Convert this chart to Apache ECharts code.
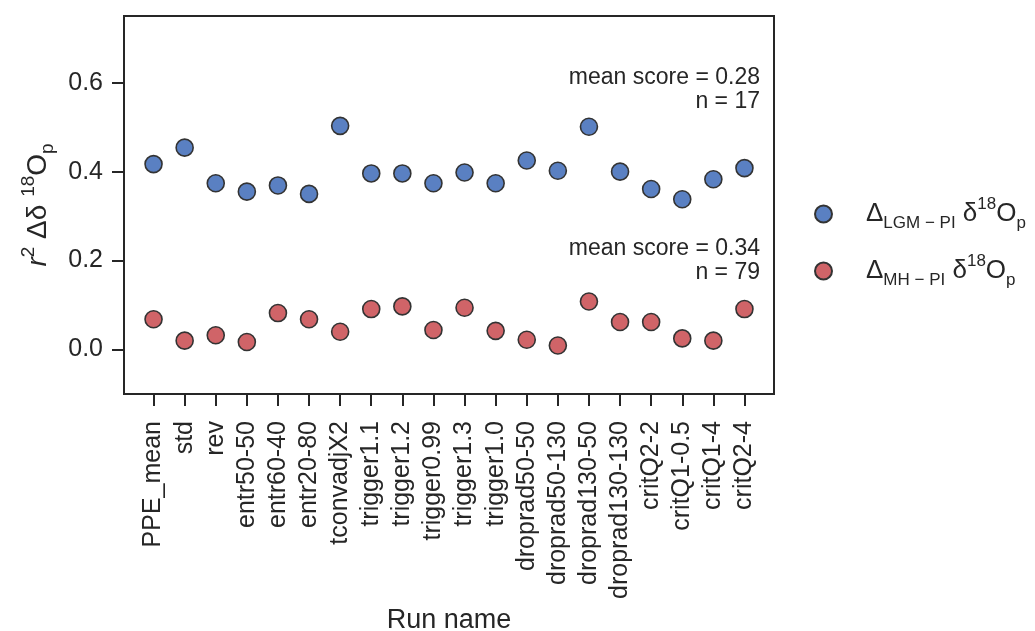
<!DOCTYPE html>
<html>
<head>
<meta charset="utf-8">
<script src="https://cdn.jsdelivr.net/npm/echarts@6/dist/echarts.min.js"></script>
<style>
html,body{margin:0;padding:0;background:#fff;}
#chart{width:1035px;height:631px;}
</style>
</head>
<body>
<div id="chart"></div>
<script>
var categories = ['PPE_mean','std','rev','entr50-50','entr60-40','entr20-80','tconvadjX2','trigger1.1','trigger1.2','trigger0.99','trigger1.3','trigger1.0','droprad50-50','droprad50-130','droprad130-50','droprad130-130','critQ2-2','critQ1-0.5','critQ1-4','critQ2-4'];
var lgmValues = [0.417,0.454,0.374,0.355,0.369,0.350,0.503,0.396,0.396,0.374,0.398,0.374,0.425,0.402,0.501,0.400,0.361,0.338,0.383,0.408];
var mhValues = [0.068,0.020,0.032,0.017,0.082,0.068,0.040,0.091,0.097,0.044,0.094,0.042,0.022,0.009,0.108,0.062,0.062,0.025,0.020,0.091];
var yTicks = [0.0, 0.2, 0.4, 0.6];
var annotationLines = [['mean score = 0.28', 'n = 17'], ['mean score = 0.34', 'n = 79']];

var FONT = '"Liberation Sans", Arial, Helvetica, sans-serif';
var TXT = '#262626';
var xIdx = categories.map(function(c, i){ return i; });

var chart = echarts.init(document.getElementById('chart'), null, {renderer: 'canvas'});

function richSet(main, small){
  return {
    n: {fontFamily: FONT, fontSize: main, color: TXT, lineHeight: main + 10},
    i: {fontFamily: FONT, fontSize: main, color: TXT, lineHeight: main + 10, fontStyle: 'italic'},
    sup: {fontFamily: FONT, fontSize: small, color: TXT, lineHeight: small, verticalAlign: 'top'},
    sub: {fontFamily: FONT, fontSize: small, color: TXT, lineHeight: small, verticalAlign: 'bottom'},
    gap: {width: 29, fontSize: main, lineHeight: main + 10}
  };
}

var annotGraphics = [];
var annotTops = [[66, 90], [237, 261]];
annotationLines.forEach(function(lines, k){
  lines.forEach(function(t, j){
    annotGraphics.push({type: 'text', right: 275, top: annotTops[k][j],
      style: {text: t, fontFamily: FONT, fontSize: 23, fill: TXT}});
  });
});

var option = {
  animation: false,
  backgroundColor: '#ffffff',
  grid: {left: 124, right: 261, top: 16, bottom: 237, outerBoundsMode: 'none', containLabel: false,
    show: true, borderColor: '#262626', borderWidth: 2, backgroundColor: 'transparent'},
  xAxis: {
    type: 'value', min: -0.95, max: 19.95,
    name: 'Run name', nameLocation: 'middle', nameGap: 212,
    nameTextStyle: {fontFamily: FONT, fontSize: 27, color: TXT},
    axisLine: {show: true, onZero: false, lineStyle: {color: '#262626', width: 2}},
    axisTick: {show: true, length: 12, lineStyle: {color: '#262626', width: 2}, customValues: xIdx},
    axisLabel: {show: true, rotate: 90, margin: 27, fontFamily: FONT, fontSize: 25, color: TXT,
      customValues: xIdx,
      formatter: function(v){ return categories[Math.round(v)]; }},
    splitLine: {show: false}
  },
  yAxis: {
    type: 'value', min: -0.1, max: 0.75,
    name: '{i|r}{sup|2}{n| Δδ }{sup|18}{n|O}{sub|p}', nameLocation: 'middle', nameGap: 58,
    nameTextStyle: {rich: richSet(28, 19)},
    axisLine: {show: true, onZero: false, lineStyle: {color: '#262626', width: 2}},
    axisTick: {show: true, length: 12, lineStyle: {color: '#262626', width: 2}, customValues: yTicks},
    axisLabel: {show: true, margin: 21, fontFamily: FONT, fontSize: 25, color: TXT,
      customValues: yTicks,
      formatter: function(v){ return v.toFixed(1); }},
    splitLine: {show: false}
  },
  legend: {
    orient: 'vertical', left: 814, top: 196, itemGap: 21, itemWidth: 17, itemHeight: 17, padding: 0,
    icon: 'circle',
    data: ['LGM', 'MH'],
    formatter: function(name){
      if (name === 'LGM') return '{gap| }{n|Δ}{sub|LGM − PI}{n| δ}{sup|18}{n|O}{sub|p}';
      return '{gap| }{n|Δ}{sub|MH − PI}{n| δ}{sup|18}{n|O}{sub|p}';
    },
    textStyle: {rich: richSet(26, 17)}
  },
  graphic: annotGraphics,
  series: [
    {name: 'LGM', type: 'scatter', symbol: 'circle', symbolSize: 17,
     itemStyle: {color: '#5A80C2', borderColor: '#333333', borderWidth: 1.6, opacity: 1},
     data: categories.map(function(c, i){ return [i, lgmValues[i]]; })},
    {name: 'MH', type: 'scatter', symbol: 'circle', symbolSize: 17,
     itemStyle: {color: '#D06468', borderColor: '#333333', borderWidth: 1.6, opacity: 1},
     data: categories.map(function(c, i){ return [i, mhValues[i]]; })}
  ]
};
chart.setOption(option);
</script>
</body>
</html>
